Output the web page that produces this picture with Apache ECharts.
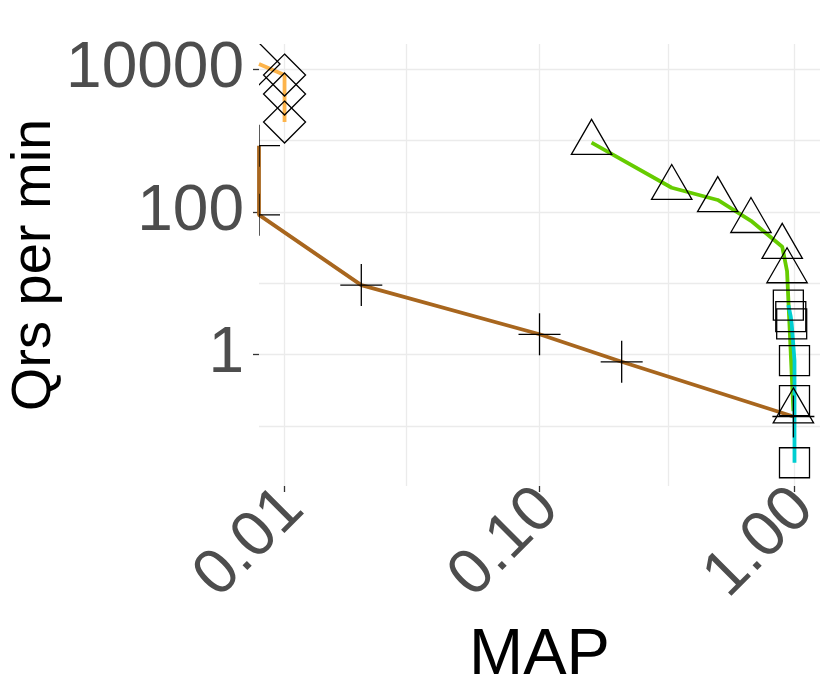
<!DOCTYPE html>
<html>
<head>
<meta charset="utf-8">
<script src="https://cdn.jsdelivr.net/npm/echarts@6/dist/echarts.min.js"></script>
<style>
html, body { margin: 0; padding: 0; background: #fff; }
#chart { width: 830px; height: 692px; }
</style>
</head>
<body>
<div id="chart"></div>
<script>
// MAP = 0 means the point sits on the left panel edge (ggplot -Inf)
var orangeMap = [0, 0.01, 0.01, 0.01];
var orangeQrs = [11900, 8300, 4500, 1820];
var brownMap = [0, 0, 0.02, 0.1, 0.21, 0.99];
var brownQrs = [850, 91, 9.4, 1.92, 0.79, 0.135];
var greenMap = [0.16, 0.33, 0.5, 0.675, 0.895, 0.935, 0.99];
var greenQrs = [935, 218, 147, 75, 32.5, 14.8, 0.16];
var cyanMap = [0.946, 0.967, 0.975, 1, 1, 1];
var cyanQrs = [4.94, 3.39, 2.68, 0.82, 0.225, 0.0303];

var xBreaks = [0.01, 0.1, 1];
var xMinorBreaks = [0.0316, 0.316];
var yBreaks = [1, 100, 10000];
var yMinorBreaks = [0.1, 10, 1000];

var X_MIN = 0.00794, X_MAX = 1.259;
var Y_MIN = 0.0143, Y_MAX = 22650;

var FONT = '"Liberation Sans", Arial, Helvetica, sans-serif';
var GRID = '#EBEBEB';
var stroke = { fill: 'none', stroke: '#000', lineWidth: 1.3 };

function edge(v) { return v > 0 ? v : X_MIN; }
function pairs(xs, ys) {
  return xs.map(function (x, i) { return [edge(x), ys[i]]; });
}
function isBreak(v, list) {
  return list.some(function (b) { return Math.abs(Math.log10(v) - Math.log10(b)) < 1e-6; });
}

var shapes = {
  plus: function (x, y) {
    return { type: 'group', children: [
      { type: 'line', shape: { x1: x - 21, y1: y, x2: x + 21, y2: y }, style: stroke },
      { type: 'line', shape: { x1: x, y1: y - 21, x2: x, y2: y + 21 }, style: stroke }
    ] };
  },
  diamond: function (x, y) {
    return { type: 'polygon', shape: { points: [[x, y - 21], [x + 21, y], [x, y + 21], [x - 21, y]] }, style: stroke };
  },
  triangle: function (x, y) {
    return { type: 'polygon', shape: { points: [[x, y - 23.3], [x + 20.2, y + 11.7], [x - 20.2, y + 11.7]] }, style: stroke };
  },
  square: function (x, y) {
    return { type: 'rect', shape: { x: x - 15, y: y - 15, width: 30, height: 30 }, style: stroke };
  }
};

function lineSeries(name, xs, ys, color, extra) {
  var s = {
    name: name, type: 'line', data: pairs(xs, ys),
    showSymbol: false, symbol: 'none', clip: true, z: 2,
    lineStyle: { color: color, width: 3.8 }
  };
  return Object.assign(s, extra || {});
}
function markerSeries(name, xs, ys, shape) {
  return {
    name: name, type: 'custom', data: pairs(xs, ys), clip: true, z: 3,
    renderItem: function (params, api) {
      var p = api.coord([api.value(0), api.value(1)]);
      return shapes[shape](p[0], p[1]);
    }
  };
}

// minor grid lines (half decades on x, odd decades on y)
var minorGrid = xMinorBreaks.map(function (v) { return { xAxis: v }; })
  .concat(yMinorBreaks.map(function (v) { return { yAxis: v }; }));

var myChart = echarts.init(document.getElementById('chart'));
var option = {
  animation: false,
  grid: { left: 259, right: 10, top: 44, bottom: 206, outerBoundsMode: 'none', containLabel: false },
  xAxis: {
    type: 'log', min: X_MIN, max: X_MAX,
    axisLine: { show: false },
    axisTick: { show: true, customValues: xBreaks, length: 6, lineStyle: { color: '#333333', width: 1.3 } },
    axisLabel: {
      customValues: xBreaks, rotate: 45, margin: 22, fontSize: 64,
      padding: [12, -13, 0, 0],
      color: '#4D4D4D', fontFamily: FONT,
      formatter: function (v) { return isBreak(v, xBreaks) ? v.toFixed(2) : ''; }
    },
    splitLine: { show: true, lineStyle: { color: GRID, width: 1.3 } },
    name: 'MAP', nameLocation: 'middle', nameGap: 138, nameMoveOverlap: false,
    nameTextStyle: { fontSize: 65, color: '#000', fontFamily: FONT }
  },
  yAxis: {
    type: 'log', min: Y_MIN, max: Y_MAX,
    axisLine: { show: false },
    axisTick: { show: true, customValues: yBreaks, length: 6, lineStyle: { color: '#333333', width: 1.3 } },
    axisLabel: {
      customValues: yBreaks, margin: 15, fontSize: 64,
      color: '#4D4D4D', fontFamily: FONT,
      formatter: function (v) { return isBreak(v, yBreaks) ? String(Math.round(v)) : ''; }
    },
    splitLine: { show: true, lineStyle: { color: GRID, width: 1.3 } },
    name: 'Qrs per min', nameLocation: 'middle', nameGap: 196, nameRotate: 90, nameMoveOverlap: false,
    nameTextStyle: { fontSize: 56, color: '#000', fontFamily: FONT }
  },
  series: [
    lineSeries('brown', brownMap, brownQrs, '#A8661E', {
      markLine: {
        silent: true, symbol: 'none', z: 1, animation: false,
        label: { show: false },
        lineStyle: { color: GRID, width: 1.3, type: 'solid' },
        data: minorGrid
      }
    }),
    lineSeries('orange', orangeMap, orangeQrs, '#FDB44B'),
    lineSeries('green', greenMap, greenQrs, '#66CC00'),
    lineSeries('cyan', cyanMap, cyanQrs, '#00CED1'),
    markerSeries('brown pts', brownMap, brownQrs, 'plus'),
    markerSeries('orange pts', orangeMap, orangeQrs, 'diamond'),
    markerSeries('green pts', greenMap, greenQrs, 'triangle'),
    markerSeries('cyan pts', cyanMap, cyanQrs, 'square')
  ]
};
myChart.setOption(option);
</script>
</body>
</html>
